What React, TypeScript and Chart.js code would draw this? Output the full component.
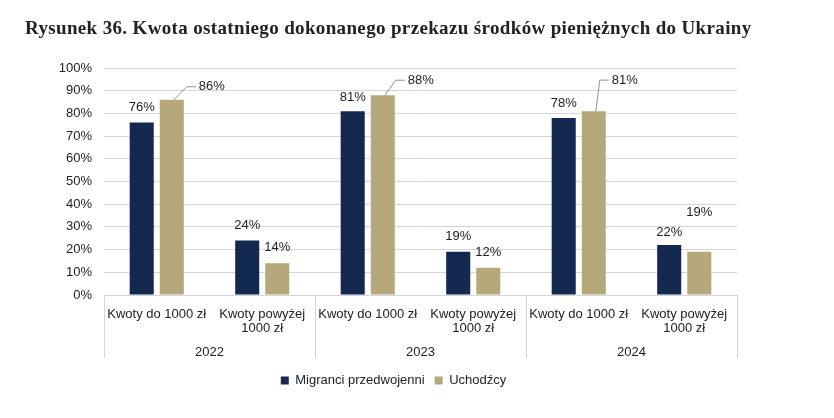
import { useEffect, useRef } from "react";
import { Chart, registerables } from "chart.js";

Chart.register(...registerables);

const title = "Rysunek 36. Kwota ostatniego dokonanego przekazu środków pieniężnych do Ukrainy";
const years = ["2022", "2023", "2024"];
const categories = [
  ["Kwoty do 1000 zł"],
  ["Kwoty powyżej", "1000 zł"],
  ["Kwoty do 1000 zł"],
  ["Kwoty powyżej", "1000 zł"],
  ["Kwoty do 1000 zł"],
  ["Kwoty powyżej", "1000 zł"],
];
const migranci = [76, 24, 81, 19, 78, 22];
const uchodzcy = [86, 14, 88, 12, 81, 19];

// label placement relative to the bar top: [dx, dy, leader line]
const migranciLabelPos: [number, number, boolean][] = [
  [0, -15, false], [0, -15, false], [0, -14, false],
  [0, -15, false], [0, -15, false], [0, -13, false],
];
const uchodzcyLabelPos: [number, number, boolean][] = [
  [40, -13, true], [0, -16, false], [38, -15, true],
  [0, -15, false], [31, -31, true], [0, -39, false],
];

const NAVY = "#13294f";
const TAN = "#b5a97c";
const INK = "#222222";
const GRID = "#d2d6d6";
const SANS = "'Liberation Sans', Arial, sans-serif";

const valueLabels = {
  id: "valueLabels",
  afterDatasetsDraw(chart: Chart) {
    const ctx = chart.ctx;
    ctx.save();
    ctx.font = `13px ${SANS}`;
    ctx.fillStyle = INK;
    ctx.textAlign = "center";
    ctx.textBaseline = "middle";
    chart.data.datasets.forEach((ds, di) => {
      const pos = di === 0 ? migranciLabelPos : uchodzcyLabelPos;
      chart.getDatasetMeta(di).data.forEach((bar: any, i) => {
        const [dx, dy, leader] = pos[i];
        const text = `${ds.data[i]}%`;
        const cx = bar.x + dx;
        const cy = bar.y + dy;
        if (leader) {
          const left = cx - ctx.measureText(text).width / 2;
          ctx.strokeStyle = "#8c9393";
          ctx.lineWidth = 1;
          ctx.beginPath();
          ctx.moveTo(bar.x + 2, bar.y);
          ctx.lineTo(left - 12, cy);
          ctx.lineTo(left - 3, cy);
          ctx.stroke();
        }
        ctx.fillText(text, cx, cy);
      });
    });
    ctx.restore();
  },
};

const yearGroups = {
  id: "yearGroups",
  afterDraw(chart: Chart) {
    const ctx = chart.ctx;
    const { left, right, bottom } = chart.chartArea;
    const step = (right - left) / years.length;
    ctx.save();
    ctx.strokeStyle = GRID;
    ctx.lineWidth = 1;
    for (let g = 0; g <= years.length; g++) {
      const x = Math.round(left + g * step) + 0.5;
      ctx.beginPath();
      ctx.moveTo(x, bottom);
      ctx.lineTo(x, bottom + 63);
      ctx.stroke();
    }
    ctx.font = `13px ${SANS}`;
    ctx.fillStyle = INK;
    ctx.textAlign = "center";
    ctx.textBaseline = "middle";
    years.forEach((y, g) => ctx.fillText(y, left + (g + 0.5) * step, bottom + 57));
    ctx.restore();
  },
};

export default function App() {
  const canvasRef = useRef<HTMLCanvasElement>(null);

  useEffect(() => {
    const canvas = canvasRef.current;
    if (!canvas) return;

    const chart = new Chart(canvas, {
      type: "bar",
      data: {
        labels: categories,
        datasets: [
          { label: "Migranci przedwojenni", data: migranci, backgroundColor: NAVY },
          { label: "Uchodźcy", data: uchodzcy, backgroundColor: TAN },
        ],
      },
      options: {
        animation: false,
        responsive: false,
        datasets: { bar: { categoryPercentage: 0.57, barPercentage: 0.8 } },
        layout: { padding: { left: 50, right: 97, top: 68, bottom: 21 } },
        plugins: {
          title: { display: false },
          tooltip: { enabled: false },
          legend: {
            position: "bottom",
            labels: {
              color: INK,
              boxWidth: 8,
              boxHeight: 8,
              padding: 10,
              font: { size: 13, family: SANS },
            },
          },
        },
        scales: {
          x: {
            grid: { display: false },
            border: { display: false },
            ticks: {
              color: INK,
              font: { size: 13, family: SANS, lineHeight: 1.1 },
              maxRotation: 0,
              autoSkip: false,
              padding: 4,
            },
            afterFit: (scale: any) => {
              scale.height = 69;
            },
          },
          y: {
            min: 0,
            max: 100,
            grid: { color: GRID, drawTicks: false },
            border: { display: false },
            ticks: {
              stepSize: 10,
              color: INK,
              padding: 12,
              font: { size: 13, family: SANS },
              callback: (v) => `${v}%`,
            },
            afterFit: (scale: any) => {
              scale.width = 54;
            },
          },
        },
      },
      plugins: [valueLabels, yearGroups],
    });

    return () => chart.destroy();
  }, []);

  return (
    <div style={{ position: "fixed", left: 0, top: 0, width: 834, height: 418, background: "#fff" }}>
      <div
        style={{
          position: "absolute",
          left: 25,
          top: 17,
          font: "bold 19px 'Liberation Serif', 'DejaVu Serif', serif",
          letterSpacing: "0.35px",
          color: "#222",
          whiteSpace: "nowrap",
        }}
      >
        {title}
      </div>
      <canvas ref={canvasRef} width={834} height={418} />
    </div>
  );
}
